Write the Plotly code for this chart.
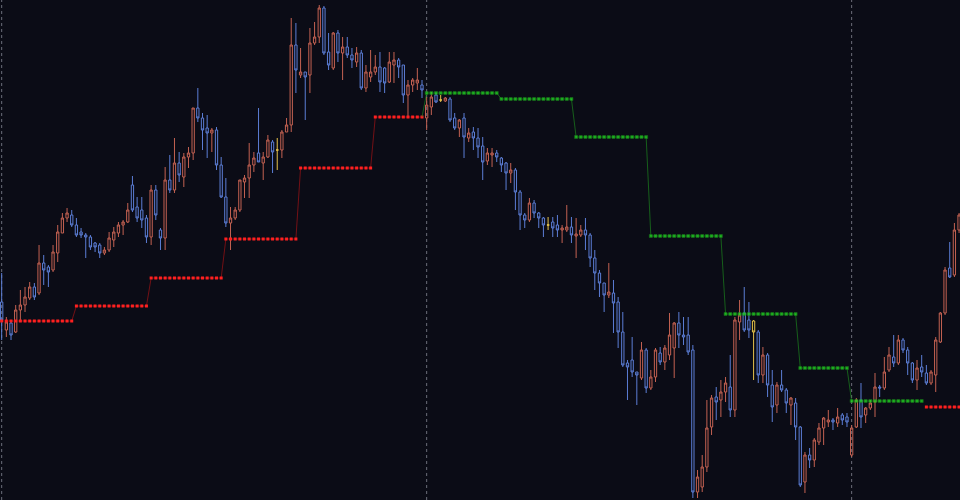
import plotly.graph_objects as go

# ---- data (bar index, OHLC) ----
open_ = [1198,1170,1177,1168,1190,1195,1202,1213,1207,1237,1233,1230,1247,1267,1282,1285,1275,1268,1265,1263,
         1257,1255,1247,1250,1260,1267,1275,1278,1315,1293,1290,1282,1263,1310,
         1270,1262,1320,1310,1337,1323,1343,1347,1392,1382,1372,1367,1370,1335,1303,1277,1282,1290,1318,1322,
         1335,1347,1337,1343,1358,1350,1350,1368,1375,1455,1425,1428,1425,1457,
         1463,1492,1448,1432,1467,1447,1453,1445,1438,1447,1412,1423,1428,1433,1432,1418,1435,1440,1435,1405,
         1415,1417,1415,1382,1393,1405,1400,1399,1401,1382,1372,1382,1362,1368,1362,
         1354,1339,1345,1347,1342,1337,1327,1330,1308,1285,1280,1297,1287,1282,1275,1278,1275,1270,1270,1273,
         1264,1265,1270,1265,1242,1227,1217,1205,1207,1198,1168,1137,1140,1128,
         1122,1150,1112,1123,1147,1138,1145,1152,1177,1165,1165,1150,1008,1013,1033,1073,1103,1100,1108,1113,
         1090,1178,1187,1180,1179,1168,1125,1145,1115,1095,1115,1110,1095,1097,
         1073,1018,1045,1040,1058,1072,1078,1080,1077,1085,1083,1045,1073,1100,1085,1092,1098,1113,1112,1130,
         1143,1137,1160,1150,1137,1120,1133,1127,1117,1125,1158,1187,1232,1225,1270]
high = [1227,1183,1178,1195,1210,1213,1218,1217,1255,1245,1235,1255,1275,1287,1292,1290,1282,1272,1267,1265,
        1258,1257,1253,1268,1273,1278,1280,1297,1324,1303,1303,1285,1315,1315,
        1272,1333,1345,1362,1348,1347,1353,1392,1412,1387,1385,1372,1373,1343,1322,1293,1293,1320,1325,1357,
        1348,1392,1348,1365,1360,1362,1370,1382,1482,1477,1452,1428,1472,1478,
        1495,1494,1467,1468,1470,1463,1463,1452,1453,1450,1435,1450,1445,1448,1433,1448,1448,1442,1435,1420,
        1422,1432,1420,1403,1408,1407,1405,1403,1403,1387,1381,1387,1372,1373,1372,
        1363,1352,1352,1350,1343,1338,1337,1332,1310,1287,1302,1300,1288,1283,1283,1283,1285,1275,1295,1283,
        1282,1275,1282,1267,1250,1230,1217,1237,1220,1203,1188,1140,1163,1128,
        1158,1152,1130,1152,1153,1155,1187,1178,1188,1183,1183,1155,1030,1045,1100,1105,1113,1120,1123,1145,
        1183,1200,1213,1198,1180,1170,1153,1147,1130,1118,1130,1112,1103,1102,
        1074,1048,1052,1062,1077,1083,1090,1082,1092,1087,1087,1075,1102,1117,1093,1100,1127,1115,1143,1153,
        1165,1165,1162,1153,1138,1140,1145,1135,1130,1163,1188,1233,1258,1277,1287]
low = [1160,1163,1160,1167,1180,1188,1200,1200,1205,1215,1213,1228,1238,1267,1278,1273,1263,1262,1242,1250,
       1248,1242,1245,1248,1253,1263,1265,1277,1288,1278,1272,1257,1255,1280,
       1250,1250,1307,1307,1318,1313,1332,1340,1378,1350,1342,1348,1330,1302,1273,1250,1280,1288,1302,1302,
       1328,1338,1320,1342,1327,1330,1342,1368,1368,1407,1422,1380,1407,1455,
       1457,1445,1430,1430,1438,1420,1442,1432,1433,1410,1408,1418,1425,1408,1407,1417,1417,1422,1397,1383,
       1408,1410,1402,1370,1385,1397,1398,1398,1378,1370,1363,1342,1358,1350,1342,
       1320,1335,1333,1338,1328,1310,1317,1290,1270,1272,1278,1282,1272,1263,1270,1263,1263,1257,1268,1257,
       1242,1263,1250,1233,1210,1203,1188,1202,1167,1152,1133,1100,1123,1095,
       1120,1107,1110,1118,1135,1130,1140,1122,1152,1155,1145,1002,1002,1008,1028,1065,1080,1083,1098,1083,
       1083,1160,1168,1162,1120,1117,1117,1103,1078,1087,1108,1087,1075,1060,
       1013,1007,1032,1033,1055,1055,1073,1070,1073,1075,1073,1043,1072,1072,1077,1090,1083,1103,1110,1128,
       1133,1135,1147,1125,1117,1110,1123,1115,1115,1108,1157,1185,1222,1223,1267]
close = [1180,1178,1165,1190,1195,1203,1213,1203,1237,1230,1228,1248,1268,1282,1287,1275,1265,1265,1263,1253,
         1253,1247,1250,1262,1268,1275,1278,1290,1290,1282,1280,1263,1310,1285,
         1262,1320,1310,1337,1325,1343,1347,1392,1382,1370,1367,1370,1335,1303,1277,1282,1290,1320,1322,1335,
         1342,1338,1343,1360,1348,1350,1368,1375,1455,1430,1428,1423,1457,1463,
         1492,1447,1435,1467,1447,1453,1445,1440,1447,1412,1428,1428,1433,1418,1417,1438,1440,1433,1405,1415,
         1420,1420,1410,1395,1403,1398,1400,1402,1380,1372,1380,1363,1367,1362,1353,
         1338,1347,1347,1343,1335,1327,1330,1308,1285,1280,1297,1287,1282,1275,1275,1272,1270,1272,1273,1265,
         1266,1270,1265,1242,1227,1217,1205,1208,1197,1168,1135,1133,1128,1125,
         1150,1112,1123,1150,1138,1152,1165,1177,1165,1163,1148,1008,1023,1033,1072,1102,1098,1108,1117,1090,
         1180,1185,1170,1170,1168,1125,1145,1115,1093,1115,1110,1097,1102,1073,
         1015,1045,1040,1060,1072,1082,1080,1078,1083,1080,1078,1072,1100,1083,1092,1097,1113,1112,1128,1145,
         1137,1160,1150,1137,1120,1132,1128,1117,1128,1160,1187,1230,1223,1270,1285]
special_bars = [59, 94, 117, 161]          # yellow-marked candles
session_starts = [0, 91, 182]

# stepped level indicator: level value, number of bars, side
step_levels = [1179, 1194, 1222, 1261, 1332, 1383,
               1407, 1401, 1363, 1264, 1186, 1132, 1099, 1093]
step_lengths = [16, 16, 16, 16, 16, 11, 16, 16, 16, 16, 16, 11, 16, 8]
step_side = ["support"] * 6 + ["resistance"] * 7 + ["support"]

# ---- build ----
n = len(close)
xs = list(range(n))
level = []
side = []
for lv, ln, sd in zip(step_levels, step_lengths, step_side):
    level += [lv] * ln
    side += [sd] * ln

norm = [i for i in xs if i not in special_bars]

BG = "#0b0c16"
UP = "rgb(196,98,82)"
DN = "rgb(92,126,214)"
CLEAR = "rgba(0,0,0,0)"

fig = go.Figure()
fig.add_trace(go.Candlestick(
    x=norm,
    open=[open_[i] for i in norm], high=[high[i] for i in norm],
    low=[low[i] for i in norm], close=[close[i] for i in norm],
    increasing=dict(line=dict(color=UP, width=1), fillcolor=CLEAR),
    decreasing=dict(line=dict(color=DN, width=1), fillcolor=CLEAR),
    whiskerwidth=0, showlegend=False, hoverinfo="skip"))
fig.add_trace(go.Candlestick(
    x=special_bars,
    open=[open_[i] for i in special_bars], high=[high[i] for i in special_bars],
    low=[low[i] for i in special_bars], close=[close[i] for i in special_bars],
    increasing=dict(line=dict(color="#e6c24a", width=1), fillcolor=CLEAR),
    decreasing=dict(line=dict(color="#e6c24a", width=1), fillcolor=CLEAR),
    whiskerwidth=0, showlegend=False, hoverinfo="skip"))

# support (red) trace
red_y = [level[i] if side[i] == "support" else None for i in xs]
fig.add_trace(go.Scatter(
    x=xs, y=red_y, mode="lines+markers", connectgaps=False,
    line=dict(color="rgba(200,20,20,0.55)", width=1),
    marker=dict(color="#ff2020", size=3, symbol="square"),
    showlegend=False, hoverinfo="skip"))

# resistance (green) trace, joined from previous bar's level
gx, gy, gs = [], [], []
for i in xs:
    if side[i] == "resistance":
        if i > 0 and side[i - 1] != "resistance":
            gx.append(i - 1); gy.append(level[i - 1]); gs.append(0)
        gx.append(i); gy.append(level[i]); gs.append(3)
fig.add_trace(go.Scatter(
    x=gx, y=gy, mode="lines+markers",
    line=dict(color="rgba(30,150,30,0.6)", width=1),
    marker=dict(color="#22e022", size=gs, symbol="square"),
    showlegend=False, hoverinfo="skip"))

for s in session_starts:
    fig.add_shape(type="line", xref="x", yref="paper", x0=s, x1=s, y0=0, y1=1,
                  line=dict(color="rgba(150,152,165,0.7)", width=1, dash="dot"), layer="below")

fig.update_layout(
    width=960, height=500,
    margin=dict(l=0, r=0, t=0, b=0),
    paper_bgcolor=BG, plot_bgcolor=BG,
    xaxis=dict(range=[-0.36, 205.2], showgrid=False, zeroline=False, showticklabels=False,
               rangeslider=dict(visible=False), fixedrange=True),
    yaxis=dict(range=[1000, 1500], showgrid=False, zeroline=False, showticklabels=False,
               fixedrange=True),
)

fig.write_html("out.html")
